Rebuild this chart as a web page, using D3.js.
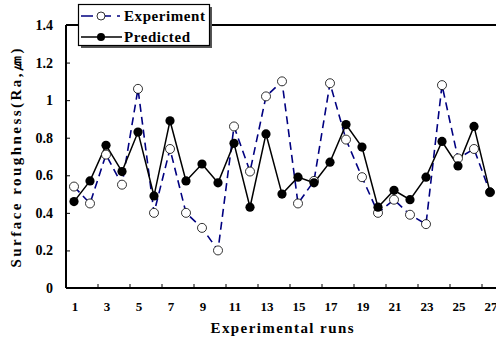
<!DOCTYPE html>
<html>
<head>
<meta charset="utf-8">
<script src="https://cdn.jsdelivr.net/npm/d3@7"></script>
<style>
  body { margin: 0; background: #fff; }
  svg { display: block; }
</style>
</head>
<body>
<div id="chart"></div>
<script>
// data
const runs = d3.range(1, 28);
const experiment = [0.54, 0.45, 0.71, 0.55, 1.06, 0.40, 0.74, 0.40, 0.32, 0.20,
                    0.86, 0.62, 1.02, 1.10, 0.45, 0.57, 1.09, 0.79, 0.59, 0.40,
                    0.47, 0.39, 0.34, 1.08, 0.69, 0.74, 0.51];
const predicted = [0.46, 0.57, 0.76, 0.62, 0.83, 0.49, 0.89, 0.57, 0.66, 0.56,
                   0.77, 0.43, 0.82, 0.50, 0.59, 0.56, 0.67, 0.87, 0.75, 0.43,
                   0.52, 0.47, 0.59, 0.78, 0.65, 0.86, 0.51];
const yTicks = [0, 0.2, 0.4, 0.6, 0.8, 1, 1.2, 1.4];
const seriesNames = ["Experiment", "Predicted"];

const W = 496, H = 339;
const plotLeft = 66, plotTop = 25, plotBottom = 288;
const font = "'Liberation Serif', serif";

const svg = d3.select("#chart").append("svg")
    .attr("width", W).attr("height", H);

const x = d3.scaleBand().domain(runs).range([plotLeft, plotLeft + 27 * 16]).padding(0);
const y = d3.scaleLinear().domain([0, 1.4]).range([plotBottom, plotTop]);
const cx = d => x(d) + x.bandwidth() / 2;

// plot frame: top line
svg.append("line")
    .attr("x1", plotLeft).attr("x2", W + 5).attr("y1", plotTop).attr("y2", plotTop)
    .attr("stroke", "#000").attr("stroke-width", 2);

// y axis, ticks pointing inward
const yAxis = svg.append("g")
    .attr("transform", `translate(${plotLeft},0)`)
    .call(d3.axisRight(y).tickValues(yTicks).tickSize(4).tickFormat(""));
yAxis.select(".domain").attr("stroke-width", 2).attr("d", `M0,${plotTop}V${plotBottom}`);

svg.selectAll(".ylab")
    .data(yTicks)
    .enter().append("text")
    .attr("class", "ylab")
    .attr("x", 53)
    .attr("y", d => y(d) + 5)
    .attr("text-anchor", "end")
    .style("font-family", font)
    .style("font-size", "14px")
    .style("font-weight", "bold")
    .text(d => d);

// x axis: ticks every second band boundary, pointing up
const xBound = runs.filter(r => r % 2 === 0);
svg.append("line")
    .attr("x1", plotLeft).attr("x2", W + 5).attr("y1", plotBottom).attr("y2", plotBottom)
    .attr("stroke", "#000").attr("stroke-width", 2);
svg.selectAll(".xtick")
    .data(xBound)
    .enter().append("line")
    .attr("x1", d => x(d) + x.bandwidth()).attr("x2", d => x(d) + x.bandwidth())
    .attr("y1", plotBottom).attr("y2", plotBottom - 4)
    .attr("stroke", "#000");

svg.selectAll(".xlab")
    .data(runs.filter(r => r % 2 === 1))
    .enter().append("text")
    .attr("x", d => cx(d) + 1)
    .attr("y", 311)
    .attr("text-anchor", "middle")
    .style("font-family", font)
    .style("font-size", "13px")
    .style("font-weight", "bold")
    .text(d => d);

// axis titles
svg.append("text")
    .attr("x", 282).attr("y", 333)
    .attr("text-anchor", "middle")
    .attr("textLength", 143)
    .style("font-family", font)
    .style("font-size", "15px")
    .style("font-weight", "bold")
    .text("Experimental runs");

svg.append("text")
    .attr("transform", "translate(21,158) rotate(-90)")
    .attr("text-anchor", "middle")
    .attr("textLength", 219)
    .style("font-family", font)
    .style("font-size", "15px")
    .style("font-weight", "bold")
    .text("Surface roughness(Ra,\u339B)");

// lines
const line = vals => d3.line()
    .x((d, i) => cx(runs[i]))
    .y(d => y(d))(vals);

svg.append("path")
    .attr("d", line(experiment))
    .attr("fill", "none")
    .attr("stroke", "#000080")
    .attr("stroke-width", 1.6)
    .attr("stroke-dasharray", "8,5");

svg.append("path")
    .attr("d", line(predicted))
    .attr("fill", "none")
    .attr("stroke", "#000")
    .attr("stroke-width", 1.5);

svg.selectAll(".exp")
    .data(experiment)
    .enter().append("circle")
    .attr("cx", (d, i) => cx(runs[i]))
    .attr("cy", d => y(d))
    .attr("r", 4.5)
    .attr("fill", "#fff")
    .attr("stroke", "#000")
    .attr("stroke-width", 0.8);

svg.selectAll(".pred")
    .data(predicted)
    .enter().append("circle")
    .attr("cx", (d, i) => cx(runs[i]))
    .attr("cy", d => y(d))
    .attr("r", 4.6)
    .attr("fill", "#000");

// legend with drop shadow
const lg = svg.append("g");
lg.append("rect")
    .attr("x", 81).attr("y", 7).attr("width", 131).attr("height", 41)
    .attr("fill", "#555");
lg.append("rect")
    .attr("x", 78.5).attr("y", 4.5).attr("width", 131).attr("height", 41)
    .attr("fill", "#fff").attr("stroke", "#000").attr("stroke-width", 1.2);

lg.append("line")
    .attr("x1", 81).attr("x2", 120).attr("y1", 16).attr("y2", 16)
    .attr("stroke", "#000080").attr("stroke-width", 1.6)
    .attr("stroke-dasharray", "12,6");
lg.append("circle")
    .attr("cx", 101).attr("cy", 16).attr("r", 4)
    .attr("fill", "#fff").attr("stroke", "#000").attr("stroke-width", 0.8);
lg.append("line")
    .attr("x1", 81).attr("x2", 122).attr("y1", 37).attr("y2", 37)
    .attr("stroke", "#000").attr("stroke-width", 1.5);
lg.append("circle")
    .attr("cx", 101).attr("cy", 37).attr("r", 4)
    .attr("fill", "#000");

lg.selectAll(".ltext")
    .data(seriesNames)
    .enter().append("text")
    .attr("x", 124)
    .attr("y", (d, i) => 21 + i * 21)
    .attr("textLength", (d, i) => i === 0 ? 81 : 66)
    .style("font-family", font)
    .style("font-size", "15px")
    .style("font-weight", "bold")
    .text(d => d);
</script>
</body>
</html>
